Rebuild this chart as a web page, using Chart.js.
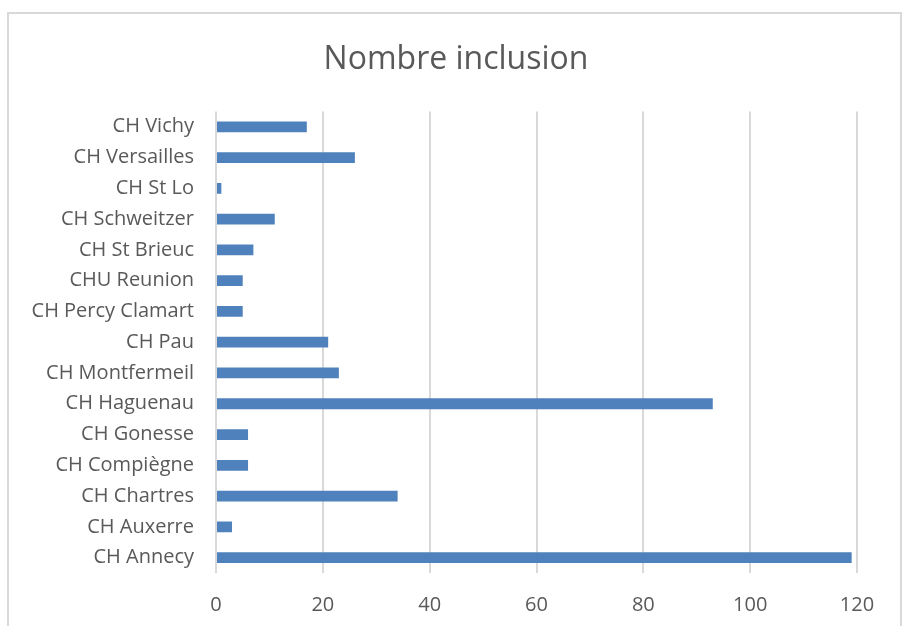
<!DOCTYPE html>
<html>
<head>
<meta charset="utf-8">
<script src="https://cdn.jsdelivr.net/npm/chart.js@4/dist/chart.umd.min.js"></script>
<style>
  html, body { margin: 0; padding: 0; background: #fff; }
  #wrap { position: relative; width: 908px; height: 626px; overflow: hidden; }
  #frame { position: absolute; left: 7px; top: 12px; width: 895px; height: 640px; border: 2px solid #d9d9d9; box-sizing: border-box; }
  canvas { position: absolute; left: 0; top: 0; }
</style>
</head>
<body>
<div id="wrap">
  <div id="frame"></div>
  <canvas id="c" width="908" height="626"></canvas>
</div>
<script>
const categories = ["CH Annecy", "CH Auxerre", "CH Chartres", "CH Compiègne", "CH Gonesse", "CH Haguenau", "CH Montfermeil", "CH Pau", "CH Percy Clamart", "CHU Reunion", "CH St Brieuc", "CH Schweitzer", "CH St Lo", "CH Versailles", "CH Vichy"];
const inclusions = [119, 3, 34, 6, 6, 93, 23, 21, 5, 5, 7, 11, 1, 26, 17];
const xTicks = [0, 20, 40, 60, 80, 100, 120];
const title = "Nombre inclusion";

const FONT = "'Open Sans', sans-serif";
const TEXT = "#595959";

const centerTitle = {
  id: 'centerTitle',
  afterLayout(chart) {
    const tb = chart.titleBlock;
    if (tb) { tb.left = 4; tb.right = chart.width; tb.width = chart.width - 4; }
  }
};

new Chart(document.getElementById('c'), {
  type: 'bar',
  data: {
    labels: categories,
    datasets: [{
      label: title,
      data: inclusions,
      backgroundColor: '#4f81bd',
      borderWidth: 0,
      barPercentage: 0.7,
      categoryPercentage: 0.5
    }]
  },
  plugins: [centerTitle],
  options: {
    indexAxis: 'y',
    responsive: false,
    animation: false,
    devicePixelRatio: 1,
    layout: { padding: { left: 0, right: 51, top: 0, bottom: 0 } },
    plugins: {
      legend: { display: false },
      tooltip: { enabled: false },
      title: {
        display: true,
        text: title,
        color: TEXT,
        font: { family: FONT, size: 32, weight: 'normal' },
        padding: { top: 41, bottom: 32 }
      }
    },
    scales: {
      x: {
        min: 0,
        max: 120,
        afterBuildTicks: (s) => { s.ticks = xTicks.map(v => ({ value: v })); },
        afterFit: (s) => { s.height = 53; },
        border: { display: false },
        grid: { color: '#d9d9d9', lineWidth: 2, drawTicks: false },
        ticks: { color: TEXT, font: { family: FONT, size: 20 }, padding: 20 }
      },
      y: {
        reverse: true,
        afterFit: (s) => { s.width = 216; },
        border: { display: false },
        grid: { display: false, drawTicks: false },
        ticks: { color: TEXT, font: { family: FONT, size: 20 }, padding: 22, autoSkip: false }
      }
    }
  }
});
</script>
</body>
</html>
